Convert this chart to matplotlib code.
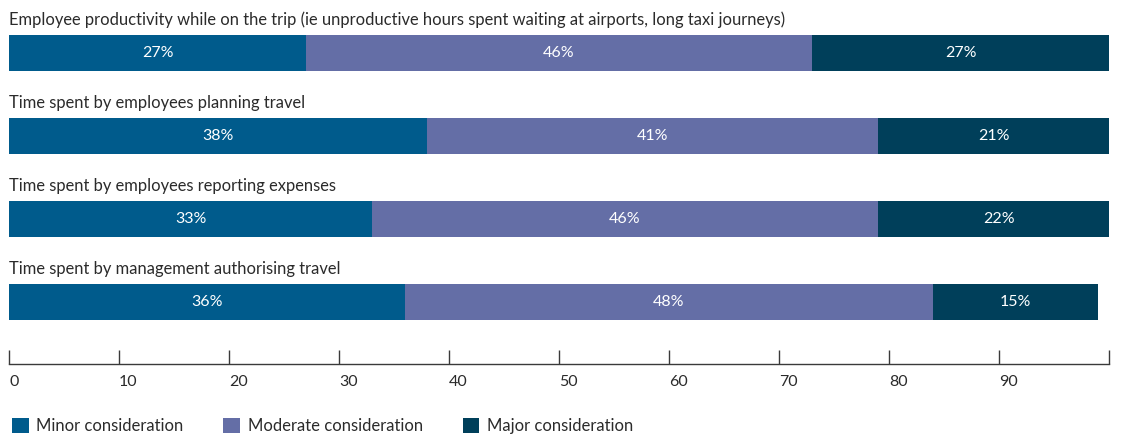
import matplotlib.pyplot as plt
from matplotlib.patches import Patch

# Survey data: share of respondents per consideration level
categories = [
    'Employee productivity while on the trip (ie unproductive hours spent waiting at airports, long taxi journeys)',
    'Time spent by employees planning travel',
    'Time spent by employees reporting expenses',
    'Time spent by management authorising travel',
]
minor = [27, 38, 33, 36]
moderate = [46, 41, 46, 48]
major = [27, 21, 22, 15]
series_names = ['Minor consideration', 'Moderate consideration', 'Major consideration']
colors = ['#005b8c', '#646ea6', '#003f5a']

plt.rcParams['font.family'] = ['Lato', 'DejaVu Sans']

fig = plt.figure(figsize=(11.28, 4.37), dpi=100)
ax = fig.add_axes([9 / 1128, 73 / 437, 1100 / 1128, 364 / 437])

ypos = list(range(len(categories)))
bar_h = 0.434
lefts = [0] * len(categories)
for vals, col in zip([minor, moderate, major], colors):
    ax.barh(ypos, vals, left=lefts, height=bar_h, color=col, linewidth=0)
    for y, l, v in zip(ypos, lefts, vals):
        ax.text(l + v / 2, y, f'{v}%', ha='center', va='center',
                color='white', fontsize=11.5)
    lefts = [l + v for l, v in zip(lefts, vals)]

# category titles sit above each bar
for y, cat in zip(ypos, categories):
    ax.text(0, y - bar_h / 2 - 0.08, cat, ha='left', va='bottom',
            fontsize=11.9, color='#2b2b2b')

ax.set_xlim(0, 100)
ax.set_ylim(3.747, -0.639)
ax.set_xticks(range(0, 101, 10))
ax.set_xticklabels([str(t) for t in range(0, 100, 10)] + [''])
ax.tick_params(axis='x', direction='in', length=10, width=1, colors='#3a3a3a',
               labelsize=11.5, pad=8, labelcolor='#2b2b2b')
ax.set_yticks([])
for side in ['top', 'left', 'right']:
    ax.spines[side].set_visible(False)
ax.spines['bottom'].set_color('#3a3a3a')
ax.spines['bottom'].set_linewidth(1)
for lbl in ax.get_xticklabels():
    lbl.set_horizontalalignment('left')

handles = [Patch(facecolor=c, edgecolor='none') for c in colors]
fig.legend(handles, series_names, loc='center left', bbox_to_anchor=(12 / 1128, 11 / 437),
           ncol=3, frameon=False, fontsize=12, handlelength=1.0, handleheight=1.0,
           handletextpad=0.45, columnspacing=2.4, borderpad=0, borderaxespad=0,
           labelcolor='#2b2b2b')

fig.savefig('out.png', dpi=100)
